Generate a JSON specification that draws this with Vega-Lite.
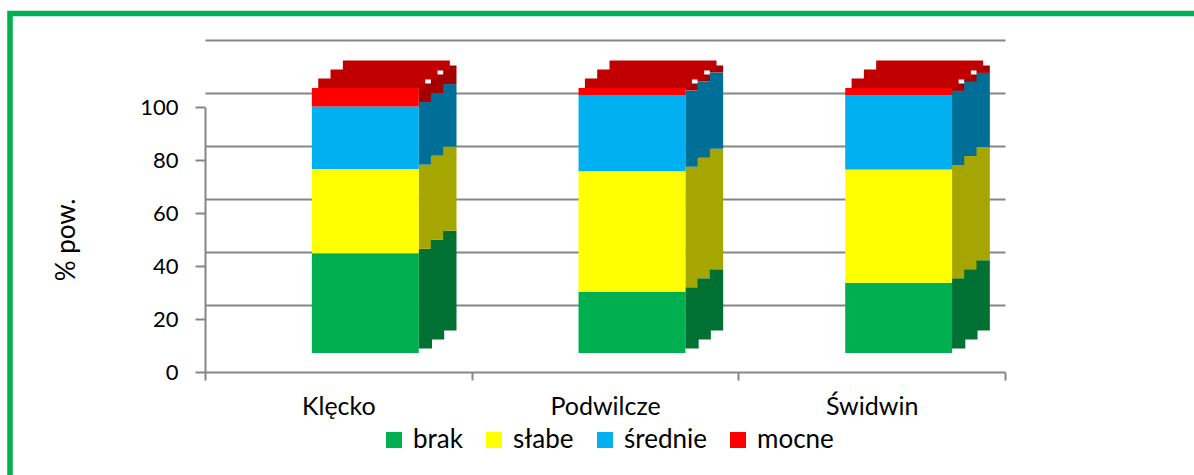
{
  "$schema": "https://vega.github.io/schema/vega-lite/v6.json",
  "width": 800,
  "height": 265,
  "autosize": {"type": "none"},
  "padding": {"left": 205, "top": 107, "right": 189, "bottom": 103},
  "background": "white",
  "config": {
    "view": {"stroke": null},
    "font": "Lato",
    "axis": {"labelFont": "Lato", "titleFont": "Lato", "labelColor": "black", "titleColor": "black"},
    "legend": {"labelFont": "Lato", "labelColor": "black"}
  },
  "data": {
    "values": [
      {"gmina": "Klęcko", "stopien": "brak", "k": 1, "v": 37.6},
      {"gmina": "Klęcko", "stopien": "słabe", "k": 2, "v": 31.8},
      {"gmina": "Klęcko", "stopien": "średnie", "k": 3, "v": 23.6},
      {"gmina": "Klęcko", "stopien": "mocne", "k": 4, "v": 7.0},
      {"gmina": "Podwilcze", "stopien": "brak", "k": 1, "v": 23.1},
      {"gmina": "Podwilcze", "stopien": "słabe", "k": 2, "v": 45.5},
      {"gmina": "Podwilcze", "stopien": "średnie", "k": 3, "v": 28.8},
      {"gmina": "Podwilcze", "stopien": "mocne", "k": 4, "v": 2.6},
      {"gmina": "Świdwin", "stopien": "brak", "k": 1, "v": 26.5},
      {"gmina": "Świdwin", "stopien": "słabe", "k": 2, "v": 42.7},
      {"gmina": "Świdwin", "stopien": "średnie", "k": 3, "v": 28.0},
      {"gmina": "Świdwin", "stopien": "mocne", "k": 4, "v": 2.8}
    ]
  },
  "encoding": {
    "x": {
      "field": "gmina",
      "type": "nominal",
      "sort": ["Klęcko", "Podwilcze", "Świdwin"],
      "scale": {"paddingInner": 0, "paddingOuter": 0},
      "axis": {
        "title": null,
        "labelAngle": 0,
        "labelFontSize": 25,
        "labelPadding": 14,
        "domainColor": "#868686",
        "domainWidth": 2,
        "tickColor": "#868686",
        "tickWidth": 2,
        "tickSize": 8,
        "tickBand": "extent"
      }
    }
  },
  "layer": [
    {
      "mark": {"type": "bar", "width": {"band": 0.05}, "xOffset": 87, "yOffset": -23.5, "y2Offset": -23.5},
      "encoding": {
        "y": {
          "field": "v",
          "type": "quantitative",
          "stack": "zero",
          "scale": {"domain": [0, 100], "nice": false},
          "axis": {
            "orient": "right",
            "title": null,
            "values": [0, 20, 40, 60, 80, 100],
            "labels": false,
            "ticks": false,
            "domain": false,
            "grid": true,
            "gridColor": "#868686",
            "gridWidth": 2,
            "tickOffset": -67
          }
        },
        "order": {"field": "k", "type": "quantitative"},
        "fill": {
          "field": "k",
          "type": "ordinal",
          "scale": {"domain": [1, 2, 3, 4], "range": ["#007033", "#A6A600", "#006F97", "#A50000"]},
          "legend": null
        }
      }
    },
    {
      "mark": {"type": "bar", "width": {"band": 0.05}, "xOffset": 99.2, "yOffset": -32.5, "y2Offset": -32.5},
      "encoding": {
        "y": {"field": "v", "type": "quantitative", "stack": "zero", "axis": null},
        "order": {"field": "k", "type": "quantitative"},
        "fill": {"field": "k", "type": "ordinal", "legend": null}
      }
    },
    {
      "mark": {"type": "bar", "width": {"band": 0.05}, "xOffset": 111.5, "yOffset": -41.5, "y2Offset": -41.5},
      "encoding": {
        "y": {"field": "v", "type": "quantitative", "stack": "zero", "axis": null},
        "order": {"field": "k", "type": "quantitative"},
        "fill": {"field": "k", "type": "ordinal", "legend": null}
      }
    },
    {
      "mark": {"type": "tick", "size": 107, "thickness": 10, "xOffset": 33.4, "yOffset": -23.5, "color": "#C00000", "opacity": 1},
      "encoding": {"y": {"aggregate": "sum", "field": "v", "type": "quantitative", "axis": null}}
    },
    {
      "mark": {"type": "tick", "size": 107, "thickness": 10, "xOffset": 45.7, "yOffset": -32.5, "color": "#C00000", "opacity": 1},
      "encoding": {"y": {"aggregate": "sum", "field": "v", "type": "quantitative", "axis": null}}
    },
    {
      "mark": {"type": "tick", "size": 107, "thickness": 10, "xOffset": 58, "yOffset": -41.5, "color": "#C00000", "opacity": 1},
      "encoding": {"y": {"aggregate": "sum", "field": "v", "type": "quantitative", "axis": null}}
    },
    {
      "mark": {"type": "bar", "width": {"band": 0.401}, "xOffset": 27, "yOffset": -19, "y2Offset": -19},
      "encoding": {
        "y": {
          "field": "v",
          "type": "quantitative",
          "stack": "zero",
          "axis": {
            "orient": "left",
            "title": "% pow.",
            "titleFontSize": 26,
            "titleFontWeight": "normal",
            "titlePadding": 60,
            "values": [0, 20, 40, 60, 80, 100],
            "labelFontSize": 22,
            "labelPadding": 17,
            "grid": false,
            "domainColor": "#868686",
            "domainWidth": 2,
            "tickColor": "#868686",
            "tickWidth": 2,
            "tickSize": 10
          }
        },
        "order": {"field": "k", "type": "quantitative"},
        "color": {
          "field": "stopien",
          "type": "nominal",
          "sort": ["brak", "słabe", "średnie", "mocne"],
          "scale": {
            "domain": ["brak", "słabe", "średnie", "mocne"],
            "range": ["#00B050", "#FFFF00", "#00B0F0", "#FF0000"]
          },
          "legend": {
            "orient": "none",
            "legendX": 176,
            "legendY": 320,
            "direction": "horizontal",
            "title": null,
            "symbolType": "square",
            "symbolSize": 256,
            "symbolStrokeWidth": 0,
            "labelFontSize": 26,
            "labelOffset": 6,
            "columnPadding": 18,
            "padding": 0
          }
        }
      }
    },
    {
      "data": {"values": [{}]},
      "mark": {"type": "rect", "fill": null, "stroke": "#00B050", "strokeWidth": 5.5, "xOffset": -295, "yOffset": 256.5, "width": 1400, "height": 700},
      "encoding": {"x": null}
    }
  ],
  "resolve": {"axis": {"y": "independent"}}
}
